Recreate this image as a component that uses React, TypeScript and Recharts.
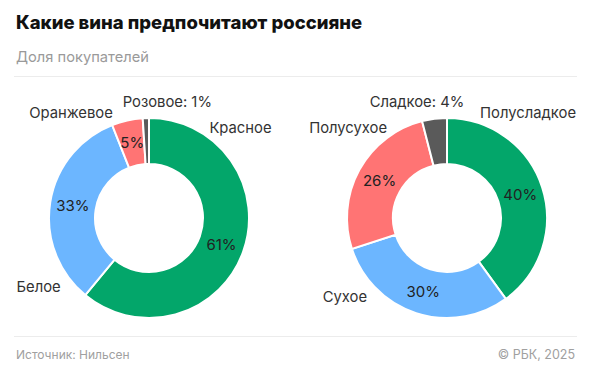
import React from "react"
import { Pie, PieChart, Cell } from "recharts"

const wineColors = ["Красное", "Белое", "Оранжевое", "Розовое"]
const wineColorShares = [61, 33, 5, 1]

const sweetness = ["Полусладкое", "Сухое", "Полусухое", "Сладкое"]
const sweetnessShares = [40, 30, 26, 4]

const palette = ["#03a66a", "#6cb6ff", "#ff7474", "#5a5a5a"]

// label placement: angle (deg, math convention), distance from centre, anchor
type NamePos = { angle: number; r: number; anchor: "start" | "middle" | "end" }
const leftNames: NamePos[] = [
  { angle: 56, r: 108, anchor: "start" },
  { angle: 218, r: 112, anchor: "end" },
  { angle: 109, r: 111, anchor: "end" },
  { angle: 81, r: 117, anchor: "middle" },
]
const rightNames: NamePos[] = [
  { angle: 72.5, r: 110, anchor: "start" },
  { angle: 224.5, r: 112, anchor: "end" },
  { angle: 123.7, r: 108, anchor: "end" },
  { angle: 104.5, r: 120, anchor: "middle" },
]

const RAD = Math.PI / 180
const font = "Inter, 'Noto Sans', sans-serif"

function makeLabel(names: NamePos[]) {
  return (props: any) => {
    const { cx, cy, midAngle, innerRadius, outerRadius, index, name, value } = props
    const pos = names[index]
    const nx = cx + pos.r * Math.cos(pos.angle * RAD)
    const ny = cy - pos.r * Math.sin(pos.angle * RAD)
    const small = value < 5
    const mr = (innerRadius + outerRadius) / 2
    const px = cx + mr * Math.cos(-midAngle * RAD)
    const py = cy + mr * Math.sin(-midAngle * RAD)
    return (
      <g>
        <text
          x={nx}
          y={ny}
          textAnchor={pos.anchor}
          dominantBaseline="central"
          fontSize={14.8}
          fontFamily={font}
          fill="#333"
        >
          {small ? `${name}: ${value}%` : name}
        </text>
        {!small && (
          <text
            x={px}
            y={py}
            textAnchor="middle"
            dominantBaseline="central"
            fontSize={15}
            fontFamily={font}
            fill="#222"
          >
            {value}%
          </text>
        )}
      </g>
    )
  }
}

const leftData = wineColors.map((name, i) => ({ name, value: wineColorShares[i] }))
const rightData = sweetness.map((name, i) => ({ name, value: sweetnessShares[i] }))

export default function App() {
  return (
    <div
      style={{
        position: "absolute",
        left: 0,
        top: 0,
        width: 591,
        height: 374,
        background: "#fff",
        fontFamily: font,
        overflow: "hidden",
      }}
    >
      <div style={{ position: "absolute", left: 16, top: 11, fontSize: 18.5, fontWeight: 800, color: "#111" }}>
        Какие вина предпочитают россияне
      </div>
      <div style={{ position: "absolute", left: 16, top: 48, fontSize: 14.7, color: "#9a9a9a" }}>
        Доля покупателей
      </div>
      <div style={{ position: "absolute", left: 14, right: 14, top: 76, height: 1, background: "#ececec" }} />
      <PieChart
        width={591}
        height={374}
        margin={{ top: 0, right: 0, bottom: 0, left: 0 }}
        style={{ position: "absolute", left: 0, top: 0 }}
      >
        <Pie
          data={leftData}
          dataKey="value"
          nameKey="name"
          cx={149}
          cy={218}
          innerRadius={54}
          outerRadius={100}
          startAngle={90}
          endAngle={-270}
          stroke="#fff"
          strokeWidth={2}
          label={makeLabel(leftNames)}
          labelLine={false}
          isAnimationActive={false}
        >
          {leftData.map((d, i) => (
            <Cell key={d.name} fill={palette[i]} />
          ))}
        </Pie>
        <Pie
          data={rightData}
          dataKey="value"
          nameKey="name"
          cx={447}
          cy={218}
          innerRadius={54}
          outerRadius={100}
          startAngle={90}
          endAngle={-270}
          stroke="#fff"
          strokeWidth={2}
          label={makeLabel(rightNames)}
          labelLine={false}
          isAnimationActive={false}
        >
          {rightData.map((d, i) => (
            <Cell key={d.name} fill={palette[i]} />
          ))}
        </Pie>
      </PieChart>
      <div style={{ position: "absolute", left: 14, right: 14, top: 336, height: 1, background: "#ececec" }} />
      <div style={{ position: "absolute", left: 16, top: 347, fontSize: 12, color: "#a0a0a0" }}>
        Источник: Нильсен
      </div>
      <div style={{ position: "absolute", right: 16, top: 347, fontSize: 12.5, color: "#a0a0a0" }}>
        © РБК, 2025
      </div>
    </div>
  )
}
